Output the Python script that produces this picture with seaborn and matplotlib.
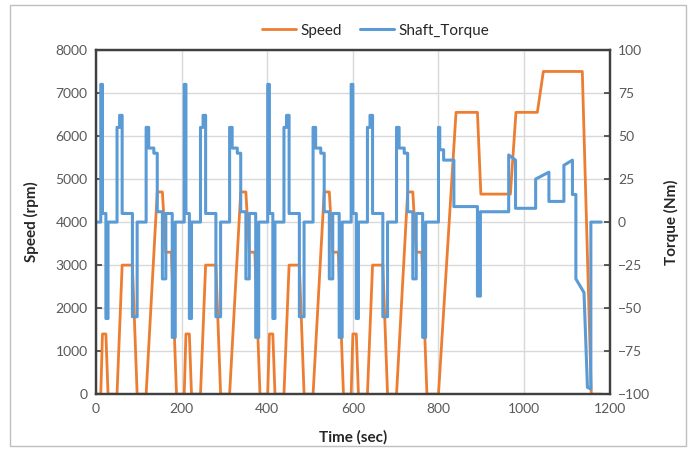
import pandas as pd
import seaborn as sns
import matplotlib.pyplot as plt
from matplotlib.patches import Rectangle

# Speed trace (rpm): 4 urban cycles + extra-urban part
speed_time = [0, 11, 15, 23, 28, 49, 61, 85, 96, 117, 143, 155, 163, 176, 188,
              195, 206, 210, 218, 223, 244, 256, 280, 291, 312, 338, 350, 358, 371, 383,
              390, 401, 405, 413, 418, 439, 451, 475, 486, 507, 533, 545, 553, 566, 578,
              585, 596, 600, 608, 613, 634, 646, 670, 681, 702, 728, 740, 748, 761, 773,
              780, 800, 841, 891, 899, 968, 981, 1031, 1045, 1136, 1157, 1180]
speed_rpm = [0, 0, 1400, 1400, 0, 0, 3000, 3000, 0, 0, 4700, 4700, 3300, 3300, 0,
             0, 0, 1400, 1400, 0, 0, 3000, 3000, 0, 0, 4700, 4700, 3300, 3300, 0,
             0, 0, 1400, 1400, 0, 0, 3000, 3000, 0, 0, 4700, 4700, 3300, 3300, 0,
             0, 0, 1400, 1400, 0, 0, 3000, 3000, 0, 0, 4700, 4700, 3300, 3300, 0,
             0, 0, 6550, 6550, 4650, 4650, 6550, 6550, 7500, 7500, 0, 0]

# Shaft torque (Nm), repeated x values give the vertical steps
torque_time = [0, 11, 11, 15, 15, 23, 23, 28, 28, 49, 49, 55, 55, 61, 61, 85, 85, 96, 96,
               117, 117, 123, 123, 135, 135, 143, 143, 155, 155, 163, 163, 178, 178, 185, 185,
               195, 206, 206, 210, 210, 218, 218, 223, 223, 244, 244, 250, 250, 256, 256, 280, 280, 291, 291,
               312, 312, 318, 318, 330, 330, 338, 338, 350, 350, 358, 358, 373, 373, 380, 380,
               390, 401, 401, 405, 405, 413, 413, 418, 418, 439, 439, 445, 445, 451, 451, 475, 475, 486, 486,
               507, 507, 513, 513, 525, 525, 533, 533, 545, 545, 553, 553, 568, 568, 575, 575,
               585, 596, 596, 600, 600, 608, 608, 613, 613, 634, 634, 640, 640, 646, 646, 670, 670, 681, 681,
               702, 702, 708, 708, 720, 720, 728, 728, 740, 740, 748, 748, 763, 763, 770, 770,
               800, 800, 803, 803, 812, 812, 836, 836, 891, 891, 898, 898, 964, 964, 980, 980,
               1027, 1027, 1058, 1058, 1093, 1093, 1113, 1113, 1121, 1121, 1140, 1148, 1156, 1156, 1180]
torque_nm = [0, 0, 80, 80, 5, 5, -56, -56, 0, 0, 55, 55, 62, 62, 5, 5, -55, -55, 0,
             0, 55, 55, 43, 43, 40, 40, 6, 6, -33, -33, 5, 5, -67, -67, 0,
             0, 0, 80, 80, 5, 5, -56, -56, 0, 0, 55, 55, 62, 62, 5, 5, -55, -55, 0,
             0, 55, 55, 43, 43, 40, 40, 6, 6, -33, -33, 5, 5, -67, -67, 0,
             0, 0, 80, 80, 5, 5, -56, -56, 0, 0, 55, 55, 62, 62, 5, 5, -55, -55, 0,
             0, 55, 55, 43, 43, 40, 40, 6, 6, -33, -33, 5, 5, -67, -67, 0,
             0, 0, 80, 80, 5, 5, -56, -56, 0, 0, 55, 55, 62, 62, 5, 5, -55, -55, 0,
             0, 55, 55, 43, 43, 40, 40, 6, 6, -33, -33, 5, 5, -67, -67, 0,
             0, 55, 55, 42, 42, 36, 36, 9, 9, -43, -43, 6, 6, 39, 36, 8,
             8, 25, 29, 12, 12, 33, 36, 16, 16, -33, -41, -96, -97, 0, 0]

speed_df = pd.DataFrame({'Time (sec)': speed_time, 'Speed': speed_rpm})
torque_df = pd.DataFrame({'Time (sec)': torque_time, 'Shaft_Torque': torque_nm})

sns.set_style("white")
plt.rcParams['font.family'] = ['Lato', 'DejaVu Sans']

orange = '#ED7D31'
blue = '#5B9BD5'
tick_col = '#595959'

fig, ax1 = plt.subplots(figsize=(6.96, 4.5), dpi=100)
fig.subplots_adjust(left=0.138, right=0.876, top=0.889, bottom=0.124)

sns.lineplot(data=speed_df, x='Time (sec)', y='Speed', ax=ax1, color=orange,
             linewidth=2, estimator=None, sort=False, label='Speed', legend=False)
ax2 = ax1.twinx()
sns.lineplot(data=torque_df, x='Time (sec)', y='Shaft_Torque', ax=ax2, color=blue,
             linewidth=2.2, estimator=None, sort=False, label='Shaft_Torque', legend=False)

ax1.set_xlim(0, 1200)
ax1.set_ylim(0, 8000)
ax2.set_ylim(-100, 100)
ax1.set_xticks(range(0, 1201, 200))
ax1.set_yticks(range(0, 8001, 1000))
ax2.set_yticks(range(-100, 101, 25))

ax1.grid(True, color='#D9D9D9', linewidth=1)
ax1.set_axisbelow(True)

for ax in (ax1, ax2):
    for s in ax.spines.values():
        s.set_color('#404040')
        s.set_linewidth(1.6)
    ax.tick_params(direction='in', length=4, width=1.2, colors='#404040',
                   labelcolor=tick_col, labelsize=10, pad=6)

ax1.set_xlabel('Time (sec)', fontsize=11, fontweight='bold', color='#262626', labelpad=11)
ax1.set_ylabel('Speed (rpm)', fontsize=11, fontweight='bold', color='#262626', labelpad=12)
ax2.set_ylabel('Torque (Nm)', fontsize=11, fontweight='bold', color='#262626', labelpad=10)

h1, l1 = ax1.get_legend_handles_labels()
h2, l2 = ax2.get_legend_handles_labels()
fig.legend(h1 + h2, l1 + l2, loc='center', bbox_to_anchor=(0.54, 0.932), ncol=2,
           frameon=False, fontsize=11, handlelength=2.2, columnspacing=1.2,
           handletextpad=0.3)

fig.patches.append(Rectangle((0.014, 0.008), 0.972, 0.98, transform=fig.transFigure,
                             fill=False, edgecolor='#BFBFBF', linewidth=1))

plt.savefig('out.png', dpi=100)
